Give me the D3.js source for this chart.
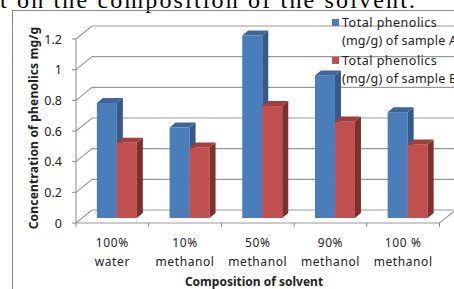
<!DOCTYPE html>
<html>
<head>
    <meta charset="utf-8">
    <title>Total phenolics by solvent</title>
    <script src="https://d3js.org/d3.v7.min.js"></script>
    <style>
        body { margin: 0; background: #fff; }
        text { font-family: "Noto Sans", sans-serif; fill: #222; }
    </style>
</head>
<body>
    <script>
        // chart data
        const categories = [["100%", "water"], ["10%", "methanol"], ["50%", "methanol"], ["90%", "methanol"], ["100 %", "methanol"]];
        const sampleA = [0.75, 0.59, 1.19, 0.93, 0.69];
        const sampleB = [0.49, 0.46, 0.73, 0.63, 0.48];
        const yTicks = [0, 0.2, 0.4, 0.6, 0.8, 1, 1.2];
        const yTickLabels = ["0", "0.2", "0.4", "0.6", "0.8", "1", "1.2"];
        const legendA = ["Total phenolics", "(mg/g) of sample A"];
        const legendB = ["Total  phenolics", "(mg/g) of sample B"];

        const width = 454, height = 289;
        const svg = d3.select("body").append("svg")
            .attr("width", width)
            .attr("height", height);

        // 3d depth of the plot box
        const DX = 16, DY = -13;

        const x = d3.scaleBand().domain(d3.range(categories.length)).range([76, 439.5]);
        const y = d3.scaleLinear().domain([0, 1.2]).range([223, 39]);

        // page title cut off at top (as in the source)
        svg.append("text")
            .attr("x", 0).attr("y", 8)
            .attr("textLength", 415)
            .style("font-family", "'Liberation Serif', serif")
            .style("font-size", "24px")
            .style("fill", "#000")
            .text("t on the composition of the solvent.");

        // chart frame
        svg.append("rect")
            .attr("x", 12.5).attr("y", 10.5)
            .attr("width", 500).attr("height", 300)
            .attr("fill", "none")
            .attr("stroke", "#868686");

        // gridlines with side wall
        const x0 = x.range()[0], x1 = x.range()[1];
        svg.selectAll("path.grid")
            .data(yTicks)
            .enter().append("path")
            .attr("class", "grid")
            .attr("d", d => `M${x0},${y(d)}L${x0 + DX},${y(d) + DY}L${width + 5},${y(d) + DY}`)
            .attr("fill", "none")
            .attr("stroke", "#999")
            .attr("stroke-width", 1.1);

        // floor front edge
        svg.append("path")
            .attr("d", `M${x0},${y(0)}L${x1},${y(0)}L${x1 + DX},${y(0) + DY}`)
            .attr("fill", "none")
            .attr("stroke", "#999")
            .attr("stroke-width", 1.1);

        // y axis
        svg.append("line")
            .attr("x1", x0).attr("x2", x0)
            .attr("y1", y(1.2)).attr("y2", y(0))
            .attr("stroke", "#888");
        svg.selectAll("line.ytick")
            .data(yTicks)
            .enter().append("line")
            .attr("x1", x0 - 4).attr("x2", x0)
            .attr("y1", d => y(d)).attr("y2", d => y(d))
            .attr("stroke", "#888");
        svg.selectAll("text.ylab")
            .data(yTicks)
            .enter().append("text")
            .attr("x", 62)
            .attr("y", d => y(d) + 4.5)
            .attr("text-anchor", "end")
            .style("font-size", "12.5px")
            .text((d, i) => yTickLabels[i]);

        // x ticks at category boundaries
        const bounds = d3.range(categories.length + 1).map(i => x0 + i * x.bandwidth());
        svg.selectAll("line.xtick")
            .data(bounds)
            .enter().append("line")
            .attr("x1", d => d).attr("x2", d => d)
            .attr("y1", y(0)).attr("y2", y(0) + 4)
            .attr("stroke", "#888");

        const xl = svg.selectAll("text.xlab")
            .data(categories)
            .enter().append("text")
            .attr("text-anchor", "middle")
            .style("font-size", "12px")
            .style("letter-spacing", "0.6px");
        xl.append("tspan")
            .attr("x", (d, i) => x(i) + x.bandwidth() / 2)
            .attr("y", 247)
            .text(d => d[0]);
        xl.append("tspan")
            .attr("x", (d, i) => x(i) + x.bandwidth() / 2)
            .attr("y", 266)
            .text(d => d[1]);

        // bars
        const barW = 20, bdx = 6, bdy = -5, off = 4.5, base = y(0) - 5;
        const series = [
            { values: sampleA, front: "#4a7ebb", side: "#34598a", top: "#3e6698" },
            { values: sampleB, front: "#c0504d", side: "#7e302e", top: "#a03f3c" }
        ];
        series.forEach((s, si) => {
            const g = svg.append("g");
            s.values.forEach((v, i) => {
                const bx = x(i) + x.bandwidth() / 2 - barW + si * barW + off;
                const top = base - (y(0) - y(v));
                g.append("rect")
                    .attr("x", bx).attr("y", top)
                    .attr("width", barW).attr("height", base - top)
                    .attr("fill", s.front);
                g.append("polygon")
                    .attr("points", [[bx + barW, top], [bx + barW + bdx, top + bdy], [bx + barW + bdx, base + bdy], [bx + barW, base]].join(" "))
                    .attr("fill", s.side);
                g.append("polygon")
                    .attr("points", [[bx, top], [bx + bdx, top + bdy], [bx + barW + bdx, top + bdy], [bx + barW, top]].join(" "))
                    .attr("fill", s.top);
            });
        });

        // axis titles
        svg.append("text")
            .attr("x", 254).attr("y", 286)
            .attr("text-anchor", "middle")
            .style("font-size", "12px")
            .style("font-weight", "bold")
            .text("Composition of solvent");
        svg.append("text")
            .attr("transform", "translate(38,128) rotate(-90)")
            .attr("text-anchor", "middle")
            .style("font-size", "12px")
            .style("font-weight", "bold")
            .style("letter-spacing", "0.2px")
            .text("Concentration of phenolics  mg/g");

        // legend
        const legend = [
            { lines: legendA, color: series[0].front, y: 19 },
            { lines: legendB, color: series[1].front, y: 57 }
        ];
        legend.forEach(l => {
            svg.append("rect")
                .attr("x", 332).attr("y", l.y)
                .attr("width", 7).attr("height", 7)
                .attr("fill", l.color);
            svg.append("text")
                .attr("x", 342).attr("y", l.y + 8)
                .style("font-size", "12.5px")
                .style("letter-spacing", "0.5px")
                .text(l.lines[0]);
            svg.append("text")
                .attr("x", 342).attr("y", l.y + 26)
                .style("font-size", "12.5px")
                .style("letter-spacing", "0.2px")
                .text(l.lines[1]);
        });
    </script>
</body>
</html>
